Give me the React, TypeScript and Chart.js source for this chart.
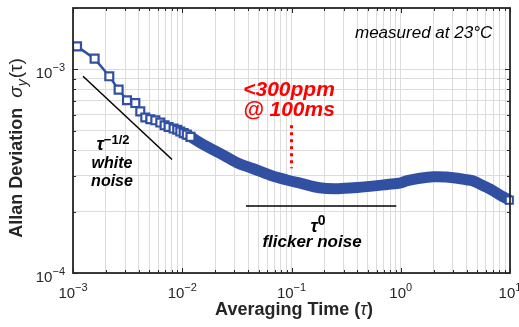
import { useEffect, useRef } from 'react';
import { Chart, registerables } from 'chart.js';

Chart.register(...registerables);

// ---- data ----
const markerTau = [1.088e-3, 1.577e-3, 2.149e-3, 2.615e-3, 3.12e-3, 3.72e-3, 4.13e-3, 4.59e-3, 5.1e-3, 5.67e-3, 6.3e-3, 6.89e-3, 7.5e-3, 8.33e-3, 9.0e-3, 9.6e-3, 1.03e-2, 1.1e-2, 1.19e-2];
const markerSigma = [1.296e-3, 1.128e-3, 9.24e-4, 7.95e-4, 7.05e-4, 6.83e-4, 6.22e-4, 5.8e-4, 5.69e-4, 5.62e-4, 5.48e-4, 5.31e-4, 5.21e-4, 5.12e-4, 5.05e-4, 4.95e-4, 4.86e-4, 4.78e-4, 4.66e-4];

const bandTau = [1.03e-2, 1.19e-2, 1.57e-2, 2.23e-2, 3.17e-2, 4.47e-2, 6.4e-2, 9.1e-2, 0.12, 0.18, 0.25, 0.37, 0.55, 0.75, 1.0, 1.15, 1.5, 2.0, 2.6, 3.3, 4.0, 4.6, 5.7, 6.6, 8.15, 9.86];
const bandSigma = [4.86e-4, 4.66e-4, 4.26e-4, 3.86e-4, 3.48e-4, 3.25e-4, 3.02e-4, 2.86e-4, 2.76e-4, 2.62e-4, 2.59e-4, 2.62e-4, 2.67e-4, 2.72e-4, 2.77e-4, 2.84e-4, 2.92e-4, 2.97e-4, 2.96e-4, 2.92e-4, 2.87e-4, 2.83e-4, 2.68e-4, 2.58e-4, 2.41e-4, 2.28e-4];

const whiteNoiseTau = [1.235e-3, 8.06e-3];
const whiteNoiseSigma = [9.24e-4, 3.61e-4];
const flickerTau = [3.83e-2, 0.91];
const flickerSigma = [2.13e-4, 2.13e-4];
const markTau = [0.1, 0.1];
const markSigma = [5.31e-4, 3.27e-4];

const xDecades = [-3, -2, -1, 0, 1];
const yDecades = [-4, -3];
const xMin = 1e-3, xMax = 10;
const yMin = 1e-4, yMax = 2e-3;

const BLUE = '#3150A2';
const AXIS = '#262626';

function logTicks(min: number, max: number) {
  const out: number[] = [];
  for (let e = Math.floor(Math.log10(min)); e <= Math.ceil(Math.log10(max)); e++) {
    for (let m = 1; m <= 9; m++) {
      const v = m * Math.pow(10, e);
      if (v >= min * 0.9999 && v <= max * 1.0001) out.push(v);
    }
  }
  return out;
}
const xTickVals = logTicks(xMin, xMax);
const yTickVals = logTicks(yMin, yMax);

function pts(xs: number[], ys: number[]) {
  return xs.map((x, i) => ({ x, y: ys[i] }));
}

function isDecade(v: number) {
  const l = Math.log10(v);
  return Math.abs(l - Math.round(l)) < 1e-6;
}

const F = '"Liberation Sans", Arial, sans-serif';

function drawPow(ctx: CanvasRenderingContext2D, x: number, baseY: number, expY: number, exp: string, align: 'center' | 'right') {
  ctx.font = `15px ${F}`;
  const w1 = ctx.measureText('10').width;
  ctx.font = `11px ${F}`;
  const w2 = ctx.measureText(exp).width;
  const total = w1 + w2;
  const start = align === 'center' ? x - total / 2 : x - total;
  ctx.textAlign = 'left';
  ctx.textBaseline = 'alphabetic';
  ctx.font = `15px ${F}`;
  ctx.fillText('10', start, baseY);
  ctx.font = `11px ${F}`;
  ctx.fillText(exp, start + w1, expY);
}

type Piece = { t: string; f: string; dy?: number; gap?: number };
function drawPieces(ctx: CanvasRenderingContext2D, pieces: Piece[], cx: number, baseY: number) {
  let total = 0;
  const widths = pieces.map(p => {
    ctx.font = p.f;
    const w = ctx.measureText(p.t).width + (p.gap || 0);
    total += w;
    return w;
  });
  let x = cx - total / 2;
  ctx.textAlign = 'left';
  ctx.textBaseline = 'alphabetic';
  pieces.forEach((p, i) => {
    ctx.font = p.f;
    ctx.fillText(p.t, x + (p.gap || 0), baseY + (p.dy || 0));
    x += widths[i];
  });
}

const decorPlugin = {
  id: 'decor',
  afterDatasetsDraw(chart: any) {
    const ctx: CanvasRenderingContext2D = chart.ctx;
    ctx.save();
    ctx.fillStyle = '#000';
    ctx.font = `italic 17px ${F}`;
    ctx.textAlign = 'left';
    ctx.textBaseline = 'alphabetic';
    ctx.fillText('measured at 23°C', 355, 38);
    ctx.fillStyle = '#FF0000';
    ctx.font = `italic bold 21px ${F}`;
    ctx.textAlign = 'center';
    ctx.fillText('<300ppm', 289, 96);
    ctx.fillText('@ 100ms', 289, 116);
    ctx.fillStyle = '#000';
    drawPieces(ctx, [
      { t: 'τ', f: `italic bold 18px ${F}` },
      { t: '−1/2', f: `bold 13px ${F}`, dy: -6 },
    ], 113, 150);
    ctx.font = `italic bold 16px ${F}`;
    ctx.textAlign = 'center';
    ctx.fillText('white', 112, 168);
    ctx.fillText('noise', 112, 186);
    drawPieces(ctx, [
      { t: 'τ', f: `italic bold 18px ${F}` },
      { t: '0', f: `bold 14px ${F}`, dy: -7 },
    ], 318, 232);
    ctx.font = `italic bold 17px ${F}`;
    ctx.textAlign = 'center';
    ctx.fillText('flicker noise', 312, 247);
    ctx.restore();
  },
  afterDraw(chart: any) {
    const ctx: CanvasRenderingContext2D = chart.ctx;
    const a = chart.chartArea;
    const xs = chart.scales.x;
    const ys = chart.scales.y;
    ctx.save();
    ctx.strokeStyle = AXIS;
    ctx.lineWidth = 1;
    ctx.beginPath();
    xTickVals.forEach(v => {
      const px = Math.round(xs.getPixelForValue(v)) + 0.5;
      const len = isDecade(v) ? 5 : 3;
      ctx.moveTo(px, a.bottom); ctx.lineTo(px, a.bottom - len);
      ctx.moveTo(px, a.top); ctx.lineTo(px, a.top + len);
    });
    yTickVals.forEach(v => {
      const py = Math.round(ys.getPixelForValue(v)) + 0.5;
      const len = isDecade(v) ? 5 : 3;
      ctx.moveTo(a.left, py); ctx.lineTo(a.left + len, py);
      ctx.moveTo(a.right, py); ctx.lineTo(a.right - len, py);
    });
    ctx.stroke();
    ctx.lineWidth = 1.8;
    ctx.strokeRect(a.left, a.top, a.right - a.left, a.bottom - a.top);

    ctx.fillStyle = AXIS;
    xDecades.forEach(d => {
      const px = xs.getPixelForValue(Math.pow(10, d));
      drawPow(ctx, px, a.bottom + 25, a.bottom + 18, d < 0 ? '−' + Math.abs(d) : String(d), 'center');
    });
    yDecades.forEach(d => {
      const py = ys.getPixelForValue(Math.pow(10, d));
      drawPow(ctx, a.left - 8, py + 9, py + 2, d < 0 ? '−' + Math.abs(d) : String(d), 'right');
    });

    drawPieces(ctx, [
      { t: 'Averaging Time (', f: `bold 18px ${F}` },
      { t: 'τ', f: `italic 18px ${F}` },
      { t: ')', f: `bold 18px ${F}` },
    ], 294, 315);

    ctx.save();
    ctx.translate(22, 148);
    ctx.rotate(-Math.PI / 2);
    drawPieces(ctx, [
      { t: 'Allan Deviation', f: `bold 18px ${F}` },
      { t: 'σ', f: `italic 19px ${F}`, gap: 10 },
      { t: 'y', f: `italic 14px ${F}`, dy: 5 },
      { t: '(τ)', f: `19px ${F}`, gap: 1 },
    ], 0, 0);
    ctx.restore();
    ctx.restore();
  },
};

export default function App() {
  const ref = useRef<HTMLCanvasElement>(null);
  useEffect(() => {
    document.body.style.margin = '0';
    if (!ref.current) return;
    const lastIdx = bandTau.length - 1;
    const chart = new Chart(ref.current, {
      type: 'line',
      data: {
        datasets: [
          {
            data: pts(bandTau, bandSigma),
            borderColor: BLUE,
            backgroundColor: '#ffffff',
            borderWidth: 11,
            tension: 0.35,
            pointStyle: 'rect',
            pointRadius: (c: any) => (c.dataIndex === lastIdx ? 5 : 0),
            pointBorderWidth: 2,
            pointBorderColor: BLUE,
            pointBackgroundColor: '#ffffff',
            clip: false as any,
            order: 3,
          },
          {
            data: pts(markerTau, markerSigma),
            borderColor: BLUE,
            backgroundColor: '#ffffff',
            borderWidth: 2.5,
            tension: 0,
            pointStyle: 'rect',
            pointRadius: 5.6,
            pointBorderWidth: 2.2,
            pointBorderColor: BLUE,
            pointBackgroundColor: '#ffffff',
            order: 2,
          },
          {
            data: pts(whiteNoiseTau, whiteNoiseSigma),
            borderColor: '#000',
            borderWidth: 1.5,
            pointRadius: 0,
            order: 1,
          },
          {
            data: pts(flickerTau, flickerSigma),
            borderColor: '#000',
            borderWidth: 1.5,
            pointRadius: 0,
            order: 1,
          },
          {
            data: pts(markTau, markSigma),
            borderColor: '#FF0000',
            borderWidth: 3,
            borderDash: [3, 4],
            pointRadius: 0,
            order: 1,
          },
        ],
      },
      options: {
        animation: false,
        responsive: true,
        maintainAspectRatio: false,
        layout: { padding: { top: 8, right: 9, left: 0, bottom: 0 } },
        plugins: { legend: { display: false }, tooltip: { enabled: false } },
        scales: {
          x: {
            type: 'logarithmic',
            min: xMin,
            max: xMax,
            afterBuildTicks: (s: any) => { s.ticks = xTickVals.map(v => ({ value: v })); },
            afterFit: (s: any) => { s.height = 54; },
            ticks: { display: false, autoSkip: false },
            grid: { color: '#dcdcdc', lineWidth: 1, drawTicks: false },
            border: { display: false },
          },
          y: {
            type: 'logarithmic',
            min: yMin,
            max: yMax,
            afterBuildTicks: (s: any) => { s.ticks = yTickVals.map(v => ({ value: v })); },
            afterFit: (s: any) => { s.width = 73; },
            ticks: { display: false, autoSkip: false },
            grid: { color: '#dcdcdc', lineWidth: 1, drawTicks: false },
            border: { display: false },
          },
        },
      },
      plugins: [decorPlugin],
    } as any);
    return () => chart.destroy();
  }, []);
  return (
    <div style={{ width: 519, height: 327, position: 'relative' }}>
      <canvas ref={ref} />
    </div>
  );
}
